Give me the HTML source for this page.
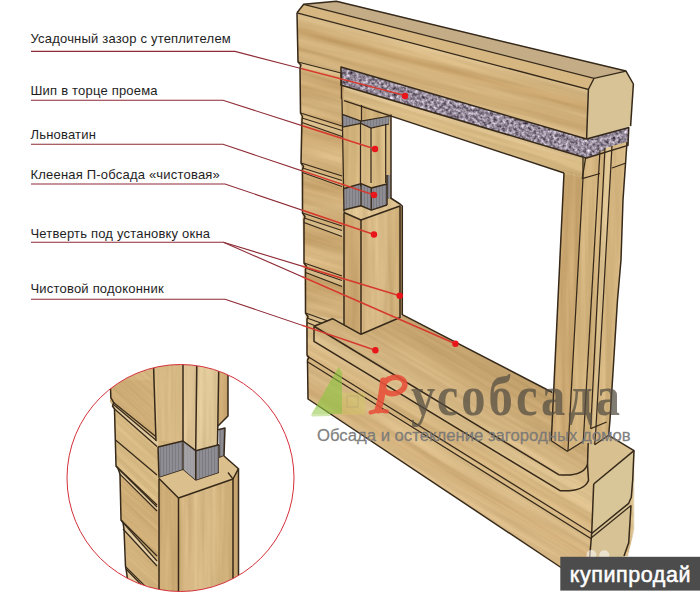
<!DOCTYPE html>
<html><head><meta charset="utf-8">
<style>
html,body{margin:0;padding:0;background:#fff;}
body{width:700px;height:600px;overflow:hidden;position:relative;font-family:"Liberation Sans",sans-serif;}
svg{position:absolute;left:0;top:0;}
.lbl{font-family:"Liberation Sans",sans-serif;font-size:13px;letter-spacing:0.2px;fill:#1e1e1e;}
.ol{fill:none;stroke:#36291a;stroke-width:1.5;stroke-linejoin:round;}
.ln{fill:none;stroke:#36291a;stroke-width:1.25;}
.rl{fill:none;}
</style></head>
<body>
<svg width="700" height="600" viewBox="0 0 700 600">
<defs>
  <!-- header front face bands (skewed along beam) -->
  <linearGradient id="hdr" gradientUnits="userSpaceOnUse" x1="0" y1="-66" x2="0" y2="-16" gradientTransform="skewY(14.8)">
    <stop offset="0" stop-color="#dbbf8d"/>
    <stop offset="0.18" stop-color="#d7b883"/>
    <stop offset="0.35" stop-color="#caa56d"/>
    <stop offset="0.55" stop-color="#d6b681"/>
    <stop offset="0.75" stop-color="#cdaa73"/>
    <stop offset="1" stop-color="#d7ba87"/>
  </linearGradient>
  <!-- wall log bands -->
  <linearGradient id="logw" x1="0" y1="0" x2="0" y2="1">
    <stop offset="0" stop-color="#d7b883"/>
    <stop offset="0.4" stop-color="#cba770"/>
    <stop offset="0.7" stop-color="#d6b681"/>
    <stop offset="1" stop-color="#ceab75"/>
  </linearGradient>
  <linearGradient id="vpost" x1="0" y1="0" x2="1" y2="0">
    <stop offset="0" stop-color="#d4b47f"/>
    <stop offset="0.5" stop-color="#d7ba87"/>
    <stop offset="1" stop-color="#cfae77"/>
  </linearGradient>
  <linearGradient id="sill" gradientUnits="userSpaceOnUse" x1="0" y1="86" x2="0" y2="162" gradientTransform="skewY(29)">
    <stop offset="0" stop-color="#c09f6a"/>
    <stop offset="0.4" stop-color="#c9a873"/>
    <stop offset="0.75" stop-color="#d1b27e"/>
    <stop offset="1" stop-color="#d8bb88"/>
  </linearGradient>
  <linearGradient id="blog" gradientUnits="userSpaceOnUse" x1="0" y1="150" x2="0" y2="215" gradientTransform="skewY(31)">
    <stop offset="0" stop-color="#dcc08d"/>
    <stop offset="0.3" stop-color="#d3b27c"/>
    <stop offset="0.55" stop-color="#dcbf8c"/>
    <stop offset="0.8" stop-color="#d1ae79"/>
    <stop offset="1" stop-color="#d9ba86"/>
  </linearGradient>
  <pattern id="ins" width="7" height="7" patternUnits="userSpaceOnUse">
    <rect width="7" height="7" fill="#8c878d"/>
    <rect x="1" y="1" width="2" height="1" fill="#b6b0b6"/>
    <rect x="4" y="3" width="2" height="2" fill="#6c676e"/>
    <rect x="2" y="5" width="1" height="1" fill="#c2bdc2"/>
    <rect x="5" y="0" width="1" height="1" fill="#a49ea6"/>
  </pattern>
  <pattern id="lin" width="3" height="6" patternUnits="userSpaceOnUse">
    <rect width="3" height="6" fill="#8e8d93"/>
    <rect x="1" y="0" width="1" height="6" fill="#7c7b81"/>
  </pattern>
  <filter id="speck" filterUnits="userSpaceOnUse" x="300" y="50" width="340" height="120" color-interpolation-filters="sRGB">
    <feTurbulence type="fractalNoise" baseFrequency="0.32" numOctaves="2" seed="7" result="n"/>
    <feColorMatrix in="n" type="matrix" values="1.05 0 0 0 0.05  1.05 0 0 0 0.01  1.05 0 0 0 0.07  0 0 0 0 1" result="g"/>
    <feComposite in="g" in2="SourceGraphic" operator="in"/>
  </filter>
  <filter id="speck2" filterUnits="userSpaceOnUse" x="100" y="100" width="300" height="400" color-interpolation-filters="sRGB">
    <feTurbulence type="fractalNoise" baseFrequency="0.15 0.9" numOctaves="2" seed="3" result="n"/>
    <feColorMatrix in="n" type="matrix" values="0.8 0 0 0 0.25  0.8 0 0 0 0.25  0.8 0 0 0 0.26  0 0 0 0 1" result="g"/>
    <feComposite in="g" in2="SourceGraphic" operator="in"/>
  </filter>
  <filter id="grain" filterUnits="userSpaceOnUse" x="-200" y="-400" width="1100" height="1400" color-interpolation-filters="sRGB">
    <feTurbulence type="fractalNoise" baseFrequency="0.008 0.16" numOctaves="3" seed="4" result="t"/>
    <feColorMatrix in="t" type="matrix" values="1 0 0 0 0  1 0 0 0 0  1 0 0 0 0  0 0 0 0 1" result="g"/>
    <feComposite in="SourceGraphic" in2="g" operator="arithmetic" k1="0" k2="1" k3="0.14" k4="-0.07" result="m"/>
    <feComposite in="m" in2="SourceGraphic" operator="in"/>
  </filter>
  <filter id="grainV" filterUnits="userSpaceOnUse" x="-200" y="-400" width="1100" height="1400" color-interpolation-filters="sRGB">
    <feTurbulence type="fractalNoise" baseFrequency="0.16 0.008" numOctaves="3" seed="9" result="t"/>
    <feColorMatrix in="t" type="matrix" values="1 0 0 0 0  1 0 0 0 0  1 0 0 0 0  0 0 0 0 1" result="g"/>
    <feComposite in="SourceGraphic" in2="g" operator="arithmetic" k1="0" k2="1" k3="0.14" k4="-0.07" result="m"/>
    <feComposite in="m" in2="SourceGraphic" operator="in"/>
  </filter>
  <clipPath id="lft"><rect x="0" y="0" width="302" height="600"/></clipPath>
  <clipPath id="rgt"><rect x="302" y="0" width="400" height="600"/></clipPath>
  <clipPath id="circ"><circle cx="180.5" cy="478" r="113.5"/></clipPath>
</defs>

<!-- ============ MAIN STRUCTURE ============ -->
<!-- left wall logs base -->
<g transform="skewY(16.7)" filter="url(#grain)"><g transform="skewY(-16.7)">
<polygon points="298,40 345,40 345,400 308,399 307.5,360 307,355 307,319.5 305.5,313 305.5,269.5 304,263 304,219.5 302.5,213 302.5,169.5 301,163 301,119.5 300.5,113 300,68 298,62" fill="#d1b17a"/>
<g id="wall-logs">
  <polygon points="300.0,62 344,75.5 344,126.5 300.5,113" fill="url(#logw)"/>
  <polygon points="300.5,113 344,126.5 344,176.5 301.0,163" fill="url(#logw)"/>
  <polygon points="301.0,163 344,176.5 344,226.5 302.5,213" fill="url(#logw)"/>
  <polygon points="302.5,213 344,226.5 344,276.5 304.0,263" fill="url(#logw)"/>
  <polygon points="304.0,263 344,276.5 344,326.5 305.5,313" fill="url(#logw)"/>
  <polygon points="302.0,118 344,130.8 344,137 302.0,122.5" fill="#d9be8c"/>
  <polygon points="302.5,168 344,180.8 344,187 302.5,172.5" fill="#d9be8c"/>
  <polygon points="304.0,218 344,230.8 344,237 304.0,222.5" fill="#d9be8c"/>
  <polygon points="305.5,268 344,280.8 344,287 305.5,272.5" fill="#d9be8c"/>
  <polygon points="307.0,318 344,330.8 344,337 307.0,322.5" fill="#d9be8c"/>
  <polygon points="300,62.5 341,72 341,76 300.5,67" fill="#d9be8c"/>
</g></g></g>
</g>

<!-- bottom logs block -->
<g transform="skewY(31)" filter="url(#grain)"><g transform="skewY(-31)">
<polygon points="305.5,313 332,318 400,318 552,392 593,444 634,450 634,530 628,556 561,567.5 308,399" fill="url(#blog)"/>
</g></g>

<!-- header beam: front face -->
<g transform="skewY(14.8)" filter="url(#grain)"><g transform="skewY(-14.8)"><polygon points="297,12.8 588.4,89.4 586.6,139 341,67 341,73 298,62" fill="url(#hdr)"/></g></g>
<!-- header top face -->
<polygon points="303.7,4.3 336.3,1.3 626,71 594,78.4" fill="#c4ad86"/>
<!-- chamfer -->
<polygon points="297,12.8 303.7,4.3 594,78.4 588.4,89.4" fill="#d6b782"/>
<!-- end face -->
<polygon points="594,78.4 626,71.1 633.4,84 630.6,126.1 586.6,139 588.4,89.4" fill="#d8c396"/>

<!-- insulation -->
<polygon points="341,67 586.6,139 585.7,158 344,86 341,85" fill="#8c878d" filter="url(#speck)"/>
<polygon points="586.6,139 628.8,127.5 628,145.4 585.7,158.3" fill="#8c878d" filter="url(#speck)"/>

<!-- casing head -->
<g transform="skewY(17.5)" filter="url(#grain)"><g transform="skewY(-17.5)">
<polygon points="344,86 585.7,158 582.2,178.7 344,100.6" fill="#d6b882"/>
<polygon points="344,86 585.7,158 585.5,163 344,91" fill="#ddc18f"/>
</g></g>

<!-- right jamb -->
<g filter="url(#grainV)">
<polygon points="563.5,170 582.2,175 599.5,152 627,142 623,200 621,260 617.5,300 610,420 608.7,435.3 594.7,444.7 583.3,441.3 567.3,451.3 551.3,440.7" fill="#d1b17b"/>
<polygon points="582.2,157.8 599.5,154.75 599.5,173.5 582.2,178.7" fill="#d4b57f"/>
<polygon points="563.5,173.5 583,178.5 568,450.5 551.3,440.7" fill="#cba871"/>
<polygon points="583,178.5 600,173.5 583.3,441.3 568,450.5" fill="#d3b37d"/>
<polygon points="605,148 612,146 598,440 592,442" fill="#ddc291"/>
<polygon points="612,146 627,142 623,200 621,260 617.5,300 610,420 608.7,435.3 596,440" fill="#d3b47f"/>
<polygon points="612,146 627,142 626,163 612,168" fill="#d7ba86"/>
</g>
<!-- window opening (white) -->
<polygon points="391,115.7 564,173 552.5,392.5 402.3,314.6 402.3,206 391,199" fill="#ffffff"/>

<!-- upper left jamb (tenon) -->
<g filter="url(#grainV)">
<polygon points="342,98 391,114.5 391,199 344,199 342,190" fill="#d0b079"/>
<polygon points="360.5,120 391,116 391,186 360.5,186" fill="#d6b883"/>
</g>
<polygon points="342.4,114.3 361,121 390,116 389,124 371,128 361,123.5 342.4,127.2" fill="url(#lin)"/>
<!-- lower linen -->
<polygon points="343.4,188.7 361,183.6 371.3,187.9 387,184 387,175 390.6,175 390.6,198 387,200 387,205 371.3,210.1 361,205.8 343.4,210" fill="url(#lin)"/>
<!-- lower left post -->
<g filter="url(#grainV)">
<polygon points="344,212.5 361,220 361,334.3 344,325" fill="#cdaa73"/>
<polygon points="361,220 400,206 400,317.5 361,334.3" fill="url(#vpost)"/>
<polygon points="343.4,210.5 361,205.8 371.3,210.1 387,205 387,199.5 390.6,197.5 400,204 402.3,206 361,220 344,212.5" fill="#dbbf8d"/>
<polygon points="400,206 402.3,207 402.3,314.6 400,317.5" fill="#c4a069"/>
</g>

<!-- sill top -->
<polygon points="567.3,451.3 583.3,441.3 594.7,444.7 608.7,435.3 634,450.7 593.7,484 588.5,480.5 587.5,464.5" fill="#d8c091"/>
<polyline class="ln" points="305.5,313 342,326"/>
<polyline class="ln" points="307.0,318 342,330.5"/>
<polyline class="ln" points="307.0,322.5 342,336.5"/>
<g transform="skewY(30)" filter="url(#grain)"><g transform="skewY(-30)">
<path d="M332.5,318.7 L361,334.3 L400,317.5 L402.3,314.6 L552.5,392.5 L551,440 L567.3,451.3 L583.3,441.3 L588.2,443 L587.5,464.5 Q583,477 558.7,474.7 L314,326.25 Z" fill="url(#sill)"/>
<!-- sill nose front -->
<path d="M314,326.25 L558.7,474.7 Q583,477 587.5,464.5 L588.5,480.5 Q584,492 560,490.7 L314,341.4 Z" fill="#d9bd8a"/>
</g></g>

<!-- log end faces -->
<polygon points="593.7,484 634,450.7 632.7,480 631.3,497.3 628.7,503.3 591.7,533.5" fill="#d8c598"/>
<polygon points="591.7,533.5 628.7,503.3 631,505.5 628.7,542.7 624,556 618,566 589.7,568" fill="#d6c295"/>

<!-- outlines -->
<polyline class="ol" points="297,12.8 303.7,4.3 336.3,1.3 626,71.1 633.4,84 630.6,126.1"/>
<polyline class="ln" points="303.7,4.3 594,78.4 626,71.1"/>
<polyline class="ln" points="297,12.8 588.4,89.4 594,78.4"/>
<polyline class="ol" points="588.4,89.4 586.6,139 341,67 341,85 344,86 586,158"/>
<polyline class="ol" points="586.6,139 628.8,127.5 628,145.4 585.7,158.3"/>
<polyline class="ol" points="344,100.6 564,173"/>
<polyline class="ln" points="582.2,178.7 585.7,157.3"/>
<polyline class="ol" points="297,12.8 298,62 301,65 300,68 300.5,113 302.5,116.5 302,119.5 301,163 303.5,166.5 302.5,169.5 302.5,213 305,216.5 304,219.5 304,263 306.5,266.5 305.5,269.5 305.5,313 308,316.5 307,319.5 307,355 309,357.5 307.5,360 308,399 561,567.5"/>
<!-- wall log groove lines -->
<polyline class="ln" points="298,62 341,73"/>
<polyline class="ln" points="300.5,113 342,126"/>
<polyline class="ln" points="302.0,118 342,130.5"/>
<polyline class="ln" points="302.0,122.5 342,136.5"/>
<polyline class="ln" points="301.0,163 342,176"/>
<polyline class="ln" points="302.5,168 342,180.5"/>
<polyline class="ln" points="302.5,172.5 342,186.5"/>
<polyline class="ln" points="302.5,213 342,226"/>
<polyline class="ln" points="304.0,218 342,230.5"/>
<polyline class="ln" points="304.0,222.5 342,236.5"/>
<polyline class="ln" points="304.0,263 342,276"/>
<polyline class="ln" points="305.5,268 342,280.5"/>
<polyline class="ln" points="305.5,272.5 342,286.5"/>
<polyline class="ol" points="341.5,73 341.5,99"/>
<polyline class="ln" points="342,99 342.5,127 343.5,183 344,212"/>
<polyline class="ol" points="391,114.5 391,199"/>
<polyline class="ol" points="564,173 551.3,440.7"/>
<polyline class="ol" points="627,142 623,200 621,260 617.5,300 610,420 608.7,435.3 634,450.7 632.7,480 631.3,497.3 628.7,503.3 591.7,533.5"/>
<polyline class="ol" points="631,505.5 628.7,542.7 624,556"/>
<polyline class="ln" points="591.7,537.5 631,505.5"/>
<polyline class="ol" points="593.7,484 591.7,533.3 589.7,557"/>
<polyline class="ol" points="593.7,484 634,450.7"/>
<polyline class="ol" points="390.6,198 400,204 402.3,206 402.3,314.6 552.5,392.5"/>
<polyline class="ol" points="344,212.5 361,220 400,206 400,317.5 361,334.3"/>
<polyline class="ol" points="361,220 361,334.3"/>
<polyline class="ol" points="344,212.5 344,325"/>
<polyline class="ol" points="314,326.25 332.5,318.7 361,334.3"/>
<path class="ol" d="M314,326.25 L558.7,474.7 Q583,477 587.5,464.5 L588.2,443"/>
<path class="ol" d="M314,326.25 L314,341.4 L560,490.7 Q584,492 588.5,480.5 L587.5,464.5"/>
<!-- bottom log lines -->
<polyline class="ln" points="307,356 591.7,533"/>
<polyline class="ln" points="307,361.5 591.7,539"/>
<!-- right jamb lines -->
<polyline class="ln" points="583,158 583,178.5 568,450.5"/>
<polyline class="ln" points="582.2,178.7 600,173.5"/>
<polyline class="ln" points="600,150 583.3,441.3"/>
<polyline class="ln" points="605,148 590.7,428.7"/>
<polyline class="ln" points="612,146 596,427 594.7,444.7"/>
<polyline class="ln" points="590.7,428.7 606.7,422"/>
<polyline class="ln" points="612,168 626,163"/>
<polyline class="ln" points="551.3,440.7 567.3,451.3 583.3,441.3"/>
<polyline class="ln" points="594.7,444.7 608.7,435.3"/>
<!-- linen outlines -->
<polyline class="ln" points="342.4,114.3 361,121 390,116"/>
<polyline class="ln" points="342.4,127.2 361,123.5 371,128 389,124"/>
<polyline class="ln" points="360.5,121 360.5,186"/>
<polyline class="ln" points="371,128 371,183"/>
<polyline class="ln" points="385.7,124 385.7,183"/>
<polyline class="ln" points="361.5,105 361.5,121"/>
<polyline class="ol" points="343.4,188.7 361,183.6 371.3,187.9 387,184"/>
<polyline class="ol" points="343.4,210 361,205.8 371.3,210.1 387,205"/>
<polyline class="ln" points="361,183.6 361,205.8"/>
<polyline class="ln" points="371.3,187.9 371.3,210.1"/>
<polyline class="ol" points="387,175 387,205"/>

<!-- ============ LABELS ============ -->
<text class="lbl" x="30.5" y="43">Усадочный зазор с утеплителем</text>
<text class="lbl" x="30.5" y="95">Шип в торце проема</text>
<text class="lbl" x="30.5" y="138.7">Льноватин</text>
<text class="lbl" x="30.5" y="179.4">Клееная П-обсада «чистовая»</text>
<text class="lbl" x="30.5" y="238">Четверть под установку окна</text>
<text class="lbl" x="30.5" y="293">Чистовой подоконник</text>

<g clip-path="url(#lft)">
<polyline class="rl" stroke="#8e2b36" stroke-width="1.1" points="31,51.4 235,51.4 405,95.5"/>
<polyline class="rl" stroke="#8e2b36" stroke-width="1.1" points="31,100.3 223,100.3 375,149"/>
<polyline class="rl" stroke="#8e2b36" stroke-width="1.1" points="31,144.3 223,144.3 374,195"/>
<polyline class="rl" stroke="#8e2b36" stroke-width="1.1" points="31,184 225,184 374,234.5"/>
<polyline class="rl" stroke="#8e2b36" stroke-width="1.1" points="31,242.3 223.4,242.3 399.7,295.7"/>
<polyline class="rl" stroke="#8e2b36" stroke-width="1.1" points="223.4,242.3 455.4,343.7"/>
<polyline class="rl" stroke="#8e2b36" stroke-width="1.1" points="31,299.2 225.1,299.2 375.4,350.2"/>
</g>
<g clip-path="url(#rgt)">
<polyline class="rl" stroke="#d63a2e" stroke-width="1.5" points="31,51.4 235,51.4 405,95.5"/>
<polyline class="rl" stroke="#d63a2e" stroke-width="1.5" points="31,100.3 223,100.3 375,149"/>
<polyline class="rl" stroke="#d63a2e" stroke-width="1.5" points="31,144.3 223,144.3 374,195"/>
<polyline class="rl" stroke="#d63a2e" stroke-width="1.5" points="31,184 225,184 374,234.5"/>
<polyline class="rl" stroke="#d63a2e" stroke-width="1.5" points="31,242.3 223.4,242.3 399.7,295.7"/>
<polyline class="rl" stroke="#d63a2e" stroke-width="1.5" points="223.4,242.3 455.4,343.7"/>
<polyline class="rl" stroke="#d63a2e" stroke-width="1.5" points="31,299.2 225.1,299.2 375.4,350.2"/>
</g>
<g fill="#e8161a">
<circle cx="405" cy="96" r="3.2"/>
<circle cx="375" cy="149" r="3.2"/>
<circle cx="374" cy="195" r="3.2"/>
<circle cx="374" cy="234.5" r="3.2"/>
<circle cx="399.7" cy="295.7" r="3.2"/>
<circle cx="455.4" cy="343.7" r="3.2"/>
<circle cx="375.4" cy="350.2" r="3.2"/>
</g>

<!-- ============ CIRCLE INSET ============ -->
<g clip-path="url(#circ)">
  <rect x="60" y="360" width="250" height="240" fill="#fff"/>
  <!-- wall logs -->
<g transform="skewY(42)" filter="url(#grain)"><g transform="skewY(-42)">
  <polygon points="110,380 162,360 184,440 184,480 162,600 128,600 126,572 124,525 122,521 120,470 116,466 114,410 113,406 110,402" fill="#d3b47e"/>
  <polygon points="110,380 158,380 158,437.5 113.5,402.5 110.5,397.5" fill="#ceac75"/>
  <polygon points="113.5,404.5 158,441 158,446.5 114.5,409" fill="#e3cca1"/>
  <polygon points="114.5,409 158,446.5 158,506 116,466" fill="#d7b984"/>
  <polygon points="118,468.4 158,507 158,511 119.4,473.6" fill="#e3cca1"/>
  <polygon points="119.4,473.6 158,511 158,557 121,520" fill="#d0ae78"/>
  <polygon points="123,522.7 158,561.4 158,566.6 123,529" fill="#e3cca1"/>
  <polygon points="126,569 158,601 158,607 126,575" fill="#e3cca1"/>
</g></g>
  <polyline class="ol" points="110.3,380 110.8,397.5 113.7,402.7 112.5,406 114.5,409 116,466 118,468.4 120,474 121,520 123,522.7 124,529 125.5,566.6 126,569 127,575 128,600"/>
  <polyline class="ln" points="113.5,402.5 157,437.5"/>
  <polyline class="ln" points="113.5,404.5 157,441"/>
  <polyline class="ln" points="114.5,409 157,446.5"/>
  <polyline class="ln" points="115.5,440 157,475"/>
  <polyline class="ln" points="116,466 157,505"/>
  <polyline class="ln" points="118,468.4 157,507"/>
  <polyline class="ln" points="119.4,473.6 157,511"/>
  <polyline class="ln" points="121,520 157,556"/>
  <polyline class="ln" points="123,522.7 157,561"/>
  <polyline class="ln" points="123,529 157,566"/>
  <polyline class="ln" points="125.5,566.6 157,598"/>
  <polyline class="ln" points="126,569 157,601"/>
  <!-- upper post (tenon) -->
<g filter="url(#grainV)">
  <polygon points="153,350 228,350 228,416 218,426 217.5,445 195.7,451 183,441 156,441" fill="#dcc293"/>
  <polygon points="153,350 183,350 183,441 156,441" fill="#d6b985"/>
  <polygon points="197,350 219,350 217.5,445 195.7,451" fill="#e0c898"/>
  <polygon points="219,350 228,350 228,416 218,426" fill="#ceab74"/>
</g>
  <polyline class="ol" points="153,350 156,441"/>
  <polyline class="ol" points="183,350 183,441"/>
  <polyline class="ol" points="197,350 195.7,451"/>
  <polyline class="ol" points="219,350 217.5,445"/>
  <polyline class="ol" points="228,350 228,416 218,426"/>
  <!-- linen -->
  <polygon points="158,447 183,441 195.7,450.7 219,444.7 218,429.7 225,428 224,456 219,458 219,473 195.7,480.7 183,470 159,477.7" fill="url(#lin)"/>
  <polygon points="183,441 195.7,450.7 195.7,480.7 183,470" fill="#b3b1b3" opacity="0.6"/>
  <polyline class="ol" points="158,447 183,441 195.7,450.7 219,444.7"/>
  <polyline class="ol" points="218,429.7 225,428 224,456 219,458"/>
  <polyline class="ln" points="183,441 183,470"/>
  <polyline class="ol" points="195.7,450.7 195.7,480.7"/>
  <polyline class="ln" points="219,444.7 219,473"/>
  <polyline class="ol" points="158,447 159,477.7"/>
  <polyline class="ol" points="159,477.7 183,470 195.7,480.7 219,473"/>
  <!-- lower post -->
<g filter="url(#grainV)">
  <polygon points="159,478.5 178.5,498 178.5,600 159,600" fill="#ceac75"/>
  <polygon points="178.5,498 233,479 233,600 178.5,600" fill="url(#vpost)"/>
</g>
  <polygon points="159,477.7 183,470 195.7,480.7 219,473 219,458 224,456 238.5,468.7 233,479 178.5,498 159,478.5" fill="#dbbf8d"/>
  <polygon points="233,479 238.5,468.7 238.5,600 233,600" fill="#c9a66f"/>
  <polyline class="ol" points="159,478.5 178.5,498 233,479 238.5,468.7 224,456"/>
  <polyline class="ln" points="228,472.5 233,479"/>
  <polyline class="ol" points="178.5,498 178.5,600"/>
  <polyline class="ol" points="159,478.5 159,600"/>
  <polyline class="ol" points="233,479 233,600"/>
  <polyline class="ol" points="238.5,468.7 238.5,600"/>
</g>
<circle cx="180.5" cy="478" r="113.5" fill="none" stroke="#d4303a" stroke-width="1"/>

<!-- ============ WATERMARK ============ -->
<g opacity="0.6">
<polygon points="311.7,414 338.5,367 342,372 342,414" fill="#8cc63f"/>
<polygon points="342,392.7 365,392.7 365,414.8 342,414.8" fill="#d1c861" opacity="0.7"/>
<rect x="347" y="396" width="11" height="11" fill="none" stroke="#b3a667" stroke-width="1"/>
<polygon points="311,414.5 320,407 331,416 312,416.5" fill="#9ccc55" opacity="0.8"/>
</g>
<text x="317" y="441.4" font-family="Liberation Sans" font-size="16.7" fill="#777777" fill-opacity="0.92" stroke="#777777" stroke-width="0.35" stroke-opacity="0.8">Обсада и остекление загородных домов</text>
<g fill="none" stroke="#e8503a" stroke-linecap="round" opacity="0.88">
 <ellipse cx="394" cy="385.5" rx="11" ry="8" stroke-width="5.5" transform="rotate(-12 394 385.5)"/>
 <path d="M383.5,381 C382.5,392 380.5,402 378,410" stroke-width="7"/>
 <path d="M370.5,412.5 C376,410.5 382,410.5 387,411.5" stroke-width="4"/>
</g>
<text transform="translate(411 414.5) scale(0.85 1)" x="0" y="0" font-family="Liberation Serif" font-weight="bold" font-size="57" letter-spacing="3.6" fill="#554e42" fill-opacity="0.74">усобсада</text>

<!-- ============ KUPIPRODAI BOX ============ -->
<circle cx="591.4" cy="555" r="5" fill="#ffffff" opacity="0.55"/>
<circle cx="604.3" cy="555.3" r="5" fill="#ffffff" opacity="0.55"/>
<rect x="560.3" y="556.8" width="140" height="33.8" fill="#4c4c4c"/>
<text x="569.8" y="581.6" font-family="Liberation Sans" font-size="21.5" letter-spacing="0.55" fill="#ffffff" stroke="#ffffff" stroke-width="0.5">купипродай</text>
</svg>
</body></html>
